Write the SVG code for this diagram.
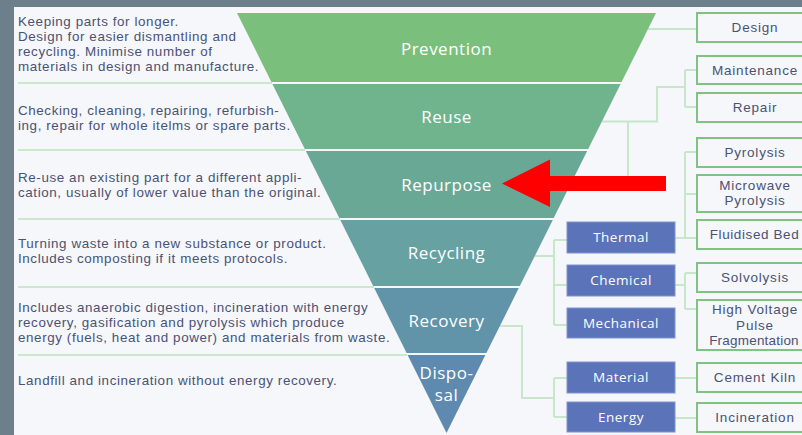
<svg xmlns="http://www.w3.org/2000/svg" width="802" height="435" viewBox="0 0 802 435">
<style>
.desc{font-family:"Liberation Sans",Arial,sans-serif;font-size:13.4px;letter-spacing:0.6px;fill:#4b5273}
.lvl{font-family:"Open Sans","Liberation Sans",sans-serif;font-size:17px;letter-spacing:0.5px;fill:#ffffff;text-anchor:middle}
.gb rect{fill:#f5f7fb;stroke:#80c283;stroke-width:2}
.gb text{font-family:"Liberation Sans",Arial,sans-serif;font-size:13.5px;letter-spacing:0.8px;fill:#4b5273;text-anchor:middle}
.bb rect{fill:#5b73b8;stroke:#8094cf;stroke-width:1}
.bb text{font-family:"Open Sans","Liberation Sans",sans-serif;font-size:13.5px;letter-spacing:0.5px;fill:#ffffff;text-anchor:middle}
.sep{stroke:#cbe8cc;stroke-width:2;fill:none}
.con{stroke:#c8e6c9;stroke-width:2;fill:none}
</style>
<rect x="0" y="0" width="802" height="435" fill="#6e7f8c"/>
<rect x="14" y="7" width="788" height="428" fill="#f5f7fb"/>

<g id="separators">
<path class="sep" d="M18,83 H272 M18,150 H305 M18,219 H340 M18,287 H374 M18,355 H407"/>
</g>

<g id="connectors">
<path class="con" d="M648,29 H697"/>
<path class="con" d="M602,121.5 H657 V87 H685 M685,70 V107 M685,70 H697 M685,107 H697"/>
<path class="con" d="M628,121.5 V183"/>
<path class="con" d="M675,238 H697 M685,152 V238 M685,152 H697 M685,194 H697"/>
<path class="con" d="M675,285 H685 M685,273 V309 M685,273 H697 M685,309 H697"/>
<path class="con" d="M535,256 H554 M554,240 V325 M554,240 H567 M554,285 H567 M554,325 H567"/>
<path class="con" d="M500,326 H522 V398 H554 M554,378 V417 M554,378 H567 M554,417 H567"/>
<path class="con" d="M675,378 H697 M675,418 H697"/>
</g>

<g id="prevention">
<polygon points="237,13 656,13 621.6,82 271.4,82" fill="#7bbf7c"/>
<text class="lvl" x="446.5" y="55">Prevention</text>
<text class="desc" x="18" y="26"><tspan x="18" y="26">Keeping parts for longer.</tspan><tspan x="18" y="41">Design for easier dismantling and</tspan><tspan x="18" y="56">recycling. Minimise number of</tspan><tspan x="18" y="71">materials in design and manufacture.</tspan></text>
</g>
<g id="reuse">
<polygon points="272.4,84 620.6,84 588.2,149 304.8,149" fill="#6fb48c"/>
<text class="lvl" x="446.5" y="123">Reuse</text>
<text class="desc" x="18" y="115"><tspan x="18" y="115">Checking, cleaning, repairing, refurbish-</tspan><tspan x="18" y="130">ing, repair for whole itelms or spare parts.</tspan></text>
</g>
<g id="repurpose">
<polygon points="305.8,151 587.2,151 553.7,218 339.3,218" fill="#6aa896"/>
<text class="lvl" x="446.5" y="191">Repurpose</text>
<text class="desc" x="18" y="182"><tspan x="18" y="182">Re-use an existing part for a different appli-</tspan><tspan x="18" y="197">cation, usually of lower value than the original.</tspan></text>
</g>
<g id="recycling">
<polygon points="340.3,220 552.8,220 519.8,286 373.2,286" fill="#67a1a2"/>
<text class="lvl" x="446.5" y="259">Recycling</text>
<text class="desc" x="18" y="248"><tspan x="18" y="248">Turning waste into a new substance or product.</tspan><tspan x="18" y="263">Includes composting if it meets protocols.</tspan></text>
</g>
<g id="recovery">
<polygon points="374.2,288 518.8,288 486.4,353 406.6,353" fill="#6193a9"/>
<text class="lvl" x="446.5" y="327">Recovery</text>
<text class="desc" x="18" y="312"><tspan x="18" y="312">Includes anaerobic digestion, incineration with energy</tspan><tspan x="18" y="327">recovery, gasification and pyrolysis which produce</tspan><tspan x="18" y="342">energy (fuels, heat and power) and materials from waste.</tspan></text>
</g>
<g id="disposal">
<polygon points="407.6,355 485.4,355 446.5,433" fill="#5f8ab0"/>
<text class="lvl" x="446.5" y="379"><tspan x="446.5" y="379">Dispo-</tspan><tspan x="446.5" y="401">sal</tspan></text>
<text class="desc" x="18" y="385">Landfill and incineration without energy recovery.</text>
</g>

<g id="thermal" class="bb"><rect x="567" y="222" width="108" height="31"/><text x="621" y="242">Thermal</text></g>
<g id="chemical" class="bb"><rect x="567" y="265" width="108" height="31"/><text x="621" y="285">Chemical</text></g>
<g id="mechanical" class="bb"><rect x="567" y="308" width="108" height="30"/><text x="621" y="328">Mechanical</text></g>
<g id="material" class="bb"><rect x="567" y="362" width="108" height="31"/><text x="621" y="382">Material</text></g>
<g id="energy" class="bb"><rect x="567" y="402" width="108" height="30"/><text x="621" y="422">Energy</text></g>

<g id="design" class="gb"><rect x="697" y="13" width="116" height="29"/><text x="755" y="32">Design</text></g>
<g id="maintenance" class="gb"><rect x="697" y="56" width="116" height="28"/><text x="755" y="74.5">Maintenance</text></g>
<g id="repair" class="gb"><rect x="697" y="93" width="116" height="29"/><text x="755" y="112">Repair</text></g>
<g id="pyrolysis" class="gb"><rect x="697" y="138" width="116" height="29"/><text x="755" y="157">Pyrolysis</text></g>
<g id="microwave" class="gb"><rect x="697" y="175" width="116" height="37"/><text x="755" y="189.5"><tspan x="755" y="189.5">Microwave</tspan><tspan x="755" y="205">Pyrolysis</tspan></text></g>
<g id="fluidised" class="gb"><rect x="697" y="220" width="116" height="29"/><text x="754.5" y="239" style="letter-spacing:0.6px">Fluidised Bed</text></g>
<g id="solvolysis" class="gb"><rect x="697" y="263" width="116" height="29"/><text x="755" y="282">Solvolysis</text></g>
<g id="hvpf" class="gb"><rect x="697" y="300" width="116" height="50"/><text x="755" y="314"><tspan x="755" y="314">High Voltage</tspan><tspan x="755" y="329.5">Pulse</tspan><tspan x="754" y="345" style="letter-spacing:0.2px">Fragmentation</tspan></text></g>
<g id="cement" class="gb"><rect x="697" y="363" width="116" height="29"/><text x="755" y="382">Cement Kiln</text></g>
<g id="incineration" class="gb"><rect x="697" y="403" width="116" height="29"/><text x="755" y="422">Incineration</text></g>

<g id="arrow">
<polygon points="502,183.5 550,159.5 550,176 666,176 666,191 550,191 550,207" fill="#ff0000"/>
</g>
</svg>
